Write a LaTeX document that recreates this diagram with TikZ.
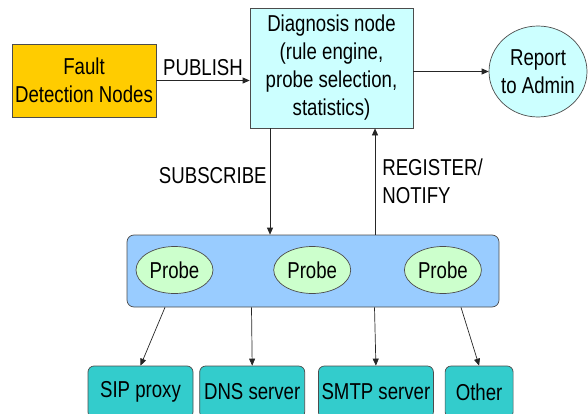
\documentclass[tikz,border=0pt]{standalone}
\usepackage{fontspec}
\setmainfont{Liberation Sans}[FakeStretch=0.81]
\usetikzlibrary{arrows.meta,positioning,shapes.geometric}
\definecolor{faultorange}{HTML}{FFCC00}
\definecolor{diagcyan}{HTML}{CCFFFF}
\definecolor{probeblue}{HTML}{99CCFF}
\definecolor{probegreen}{HTML}{CCFFCC}
\definecolor{servicecyan}{HTML}{33CCCC}
\tikzset{
  box/.style={
    draw=black!70, line width=0.7pt,
    align=center, inner sep=2pt
  },
  fault/.style={box, fill=faultorange, minimum width=144pt, minimum height=73pt},
  diagbox/.style={box, fill=diagcyan, minimum width=163pt, minimum height=120pt},
  admin/.style={box, ellipse, fill=diagcyan, inner xsep=-5pt, minimum width=98pt, minimum height=91pt},
  group/.style={box, rounded corners=7pt, fill=probeblue, minimum width=372pt, minimum height=72pt},
  probe/.style={box, ellipse, fill=probegreen, minimum width=77pt, minimum height=47pt},
  service/.style={box, rounded corners=6pt, fill=servicecyan, minimum height=52pt},
  arrow/.style={-{Triangle[length=7pt,width=6pt]}, line width=0.7pt, draw=black!85},
  lbl/.style={inner sep=2pt, align=left}
}

\begin{document}
\begin{tikzpicture}[x=1pt, y=1pt, font=\fontsize{23}{28}\selectfont]
\useasboundingbox (0,0) rectangle (588,413);

% ---------- Top row ----------
\node[fault] (fault) at (84,332.5) {Fault\\Detection Nodes};
\node[diagbox] (diag) at (331.5,345)
  {Diagnosis node\\(rule engine,\\probe selection,\\statistics)};
\node[admin] (report) at (538,341.5) {Report\\to Admin};

\draw[arrow] (fault.east) -- (fault.east -| diag.west)
  node[lbl, midway, above=2pt] (publish) {PUBLISH};
\draw[arrow] (report.west -| diag.east) -- (report.west);

% ---------- Probes ----------
\node[group] (probes) at (313,142) {};
\node[probe] (probeA) at (174.5,143) {Probe};
\node[probe, right=60pt of probeA] (probeB) {Probe};
\node[probe, right=53pt of probeB] (probeC) {Probe};

\draw[arrow] ([xshift=-61.5pt]diag.south) -- ([xshift=-61.5pt]diag.south |- probes.north)
  node[lbl, midway, left=1pt, yshift=6pt] (subscribe) {SUBSCRIBE};
\draw[arrow] ([xshift=43.5pt]diag.south |- probes.north) -- ([xshift=43.5pt]diag.south)
  node[lbl, midway, right=5pt] (register) {REGISTER/\\NOTIFY};

% ---------- Monitored services ----------
\node[service, minimum width=105pt] (sip) at (140.5,21) {SIP proxy};
\node[service, minimum width=105pt, right=6pt of sip] (dns) {DNS server};
\node[service, minimum width=115pt, right=13pt of dns] (smtp) {SMTP server};
\node[service, minimum width=68pt, right=11pt of smtp] (other) {Other};

\foreach \dx/\target in {-148/sip, -61.5/dns, 61.5/smtp, 148/other}
  \draw[arrow] ([xshift=\dx pt]probes.south) -- (\target.north);

\end{tikzpicture}
\end{document}
